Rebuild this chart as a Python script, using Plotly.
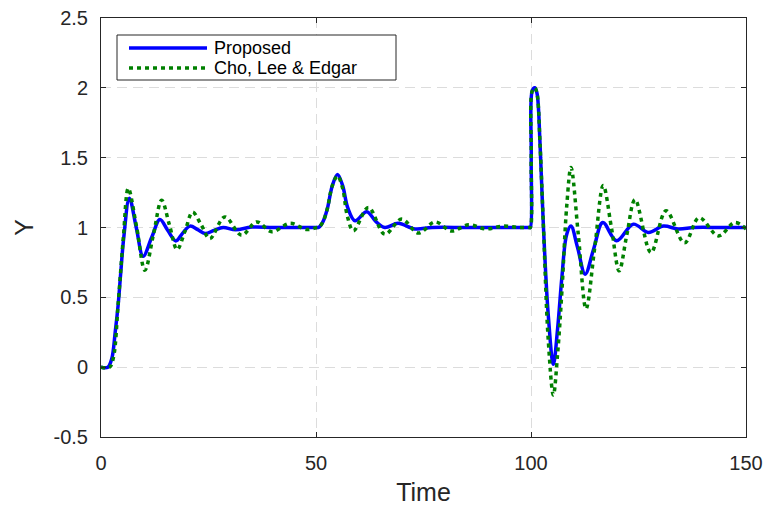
import plotly.graph_objects as go

# ---------------- data ----------------
t_proposed = [0, 1.6, 2.5, 3.3, 4.0, 4.6, 5.3, 6.6, 8.2, 9.8, 11.8, 13.7, 15.5, 17.4, 19.0,
              20.7, 22.5, 24.2, 26.3, 28.4, 31.3, 35.0, 40.0, 45.0,
              50.3, 50.6, 51.6, 52.6, 53.8, 55.0, 56.2, 57.4, 59.1, 61.8, 64.0, 66.0, 69.1, 73.0, 77.0, 85.0, 95.0,
              99.6, 99.85, 100.05, 100.3, 100.9, 101.4, 102.1, 102.9, 104.0, 105.2, 106.2, 107.2, 108.3, 109.3,
              110.8, 112.6, 114.6, 116.7, 119.9, 123.8, 127.3, 130.8, 134.2, 138.0, 144.0, 150.0]
y_proposed = [0, 0, 0.06, 0.25, 0.45, 0.68, 0.93, 1.21, 1.0, 0.794, 0.93, 1.057, 0.98, 0.904, 0.96,
              1.01, 0.985, 0.957, 0.98, 1.0, 0.983, 1.003, 1.0, 1.0,
              1.0, 1.0, 1.04, 1.13, 1.3, 1.38, 1.3, 1.14, 1.048, 1.113, 1.04, 1.0, 1.03, 0.99, 1.0, 1.0, 1.0,
              1.0, 1.0, 1.5, 1.98, 2.0, 1.96, 1.6, 1.0, 0.38, 0.02, 0.28, 0.65, 0.95, 1.01,
              0.86, 0.666, 0.85, 1.036, 0.905, 1.024, 0.964, 1.01, 0.99, 1.0, 1.0, 1.0]

t_cho = [0, 2.0, 2.9, 4.0, 5.2, 6.35, 8.3, 10.2, 12.2, 14.1, 15.9, 17.7, 19.5, 21.3, 23.3, 25.3,
         28.8, 32.7, 36.2, 39.7, 44.0, 47.8,
         50.3, 50.6, 51.6, 52.6, 53.8, 55.0, 56.2, 57.3, 58.7, 62.2, 66.0, 69.9, 73.8, 77.7, 81.5, 85.5,
         89.5, 93.5, 97.0,
         99.6, 99.85, 100.05, 100.3, 100.9, 101.4, 102.1, 102.9, 104.0, 105.2, 106.2, 107.2, 108.3, 109.3,
         111.0, 112.8, 114.8, 116.8, 118.7, 120.5, 122.3, 124.2, 127.9, 131.4, 135.7, 139.1,
         143.6, 147.4, 150.0]
y_cho = [0, 0, 0.07, 0.457, 0.93, 1.28, 1.0, 0.694, 0.95, 1.196, 1.02, 0.842, 0.97, 1.11, 1.02, 0.92,
         1.076, 0.945, 1.04, 0.97, 1.03, 0.985,
         1.0, 1.0, 1.04, 1.13, 1.3, 1.37, 1.28, 1.08, 0.976, 1.144, 0.952, 1.06, 0.96, 1.04, 0.975, 1.02,
         0.99, 1.01, 1.0,
         1.0, 1.0, 1.5, 1.98, 2.0, 1.96, 1.6, 1.0, 0.2, -0.2, 0.1, 0.55, 1.15, 1.43,
         0.95, 0.418, 0.85, 1.30, 1.0, 0.69, 0.95, 1.20, 0.82, 1.12, 0.89, 1.07,
         0.94, 1.036, 0.99]

series_names = ["Proposed", "Cho, Lee & Edgar"]
series_colors = ["#0000ff", "#008000"]

x_ticks = [0, 50, 100, 150]
x_ticktext = ["0", "50", "100", "150"]
y_ticks = [-0.5, 0, 0.5, 1, 1.5, 2, 2.5]
y_ticktext = ["-0.5", "0", "0.5", "1", "1.5", "2", "2.5"]

FONT = "Liberation Sans, Arial, Helvetica, sans-serif"
AX = "#262626"
LW = 3.5
GREEN_DASH = "4px,4px"

fig = go.Figure()
fig.add_trace(go.Scatter(x=t_proposed, y=y_proposed, mode="lines", name=series_names[0],
                         showlegend=False,
                         line=dict(color=series_colors[0], width=LW, shape="spline", smoothing=1.0)))
fig.add_trace(go.Scatter(x=t_cho, y=y_cho, mode="lines", name=series_names[1],
                         showlegend=False,
                         line=dict(color=series_colors[1], width=LW, dash=GREEN_DASH,
                                   shape="spline", smoothing=1.0)))

axis_common = dict(
    showline=True, linecolor=AX, linewidth=1, mirror="ticks",
    ticks="inside", ticklen=5, tickwidth=1, tickcolor=AX,
    showgrid=True, gridcolor="#dcdcdc", gridwidth=1, griddash="10px,6px",
    zeroline=False, tickfont=dict(family=FONT, size=20, color=AX),
    automargin=False,
)

fig.update_xaxes(range=[0, 150], tickvals=x_ticks, ticktext=x_ticktext,
                 title=dict(text="Time", font=dict(family=FONT, size=25, color=AX), standoff=13),
                 ticklabelstandoff=8, **axis_common)
fig.update_yaxes(range=[-0.5, 2.5], tickvals=y_ticks, ticktext=y_ticktext,
                 title=dict(text="Y", font=dict(family=FONT, size=25, color=AX), standoff=12),
                 ticklabelstandoff=8, **axis_common)

# ---- legend box (drawn in MATLAB style, compact) ----
W, H = 645.0, 419.0  # plot area size in px
def px(xpix):
    return (xpix - 101) / W
def py(ypix):
    return (437 - ypix) / H

shapes = [dict(type="rect", xref="paper", yref="paper",
               x0=px(117), x1=px(396), y0=py(80), y1=py(35),
               line=dict(color=AX, width=1), fillcolor="white", layer="above")]
annotations = []
rows_y = [48, 68]
for name, color, ry, dash in zip(series_names, series_colors, rows_y, ["solid", GREEN_DASH]):
    shapes.append(dict(type="line", xref="paper", yref="paper",
                       x0=px(129), x1=px(207), y0=py(ry), y1=py(ry),
                       line=dict(color=color, width=LW, dash=dash), layer="above"))
    annotations.append(dict(text=name, xref="paper", yref="paper", x=px(212), y=py(ry),
                            xanchor="left", yanchor="middle", showarrow=False,
                            font=dict(family=FONT, size=18, color="black")))

fig.update_layout(
    width=768, height=506,
    margin=dict(l=101, r=22, t=18, b=69, autoexpand=False),
    paper_bgcolor="white", plot_bgcolor="white",
    showlegend=False,
    shapes=shapes, annotations=annotations,
)

fig.write_html("out.html")
